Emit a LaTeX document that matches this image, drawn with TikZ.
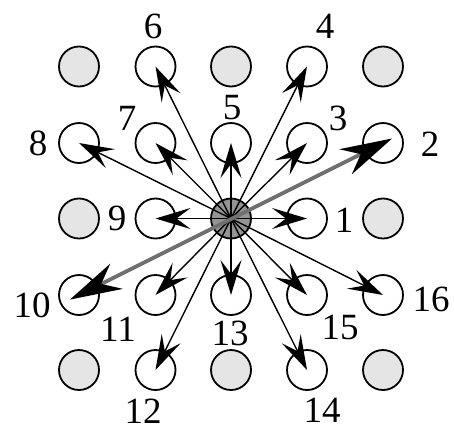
\documentclass[tikz,border=0pt]{standalone}
\usepackage{fontspec}
\setmainfont{Liberation Serif}
\usetikzlibrary{arrows.meta,calc}
\begin{document}
\begin{tikzpicture}[x=1pt,y=-1pt,
  cell/.style={circle,draw=black,line width=1.8pt,minimum size=40pt,inner sep=0pt},
  off/.style={cell,fill=black!10},
  hub/.style={cell,fill=black!42},
  arr/.style={line width=1.4pt,-{Stealth[length=35pt,width=21pt,inset=14pt]}},
  big/.style={line width=3.8pt,draw=black!56,{Stealth[length=52pt,width=28pt,inset=17pt,color=black]}-{Stealth[length=52pt,width=28pt,inset=17pt,color=black]}},
  lab/.style={inner sep=0pt,font=\fontsize{37}{37}\selectfont}]
\useasboundingbox (0,0) rectangle (454,432);
% grey (unused) positions
\node[off] (g1) at (79,66.5) {};
\node[off] (g2) at (231,66.5) {};
\node[off] (g3) at (383,66.5) {};
\node[off] (g4) at (79,218.5) {};
\node[off] (g5) at (383,218.5) {};
\node[off] (g6) at (79,370) {};
\node[off] (g7) at (231,370) {};
\node[off] (g8) at (383,370) {};
% numbered positions
\node[cell] (n1) at (307,218.5) {};
\node[cell] (n2) at (383,143) {};
\node[cell] (n3) at (307,143) {};
\node[cell] (n4) at (307,66.5) {};
\node[cell] (n5) at (231,143) {};
\node[cell] (n6) at (155.5,66.5) {};
\node[cell] (n7) at (155.5,143) {};
\node[cell] (n8) at (79,143) {};
\node[cell] (n9) at (155.5,218.5) {};
\node[cell] (n10) at (79,295) {};
\node[cell] (n11) at (155.5,295) {};
\node[cell] (n12) at (155.5,370) {};
\node[cell] (n13) at (231,295) {};
\node[cell] (n14) at (307,370) {};
\node[cell] (n15) at (307,295) {};
\node[cell] (n16) at (383,295) {};
% hub
\node[hub] (c) at (231,218.5) {};
% arrows
\foreach \k in {1,3,4,5,6,7,8,9,11,12,13,14,15,16}
  \draw[arr] (c.center) -- (n\k.center);
\coordinate (t2) at ($(c.center)!1.06!(n2.center)$);
\coordinate (t10) at ($(c.center)!1.06!(n10.center)$);
\draw[big] (t10) -- (t2);
% labels
\node[lab] (l1) at (344,220) {1};
\node[lab] (l2) at (430,144) {2};
\node[lab] (l3) at (338,118) {3};
\node[lab] (l4) at (325,26) {4};
\node[lab] (l5) at (232,108) {5};
\node[lab] (l6) at (153,26) {6};
\node[lab] (l7) at (127,118) {7};
\node[lab] (l8) at (38,143) {8};
\node[lab] (l9) at (117,218) {9};
\node[lab] (l10) at (32,305) {10};
\node[lab] (l11) at (118,329) {11};
\node[lab] (l12) at (143,411) {12};
\node[lab] (l13) at (230,333) {13};
\node[lab] (l14) at (322,410) {14};
\node[lab] (l15) at (340,327) {15};
\node[lab] (l16) at (431,299) {16};
\end{tikzpicture}
\end{document}
